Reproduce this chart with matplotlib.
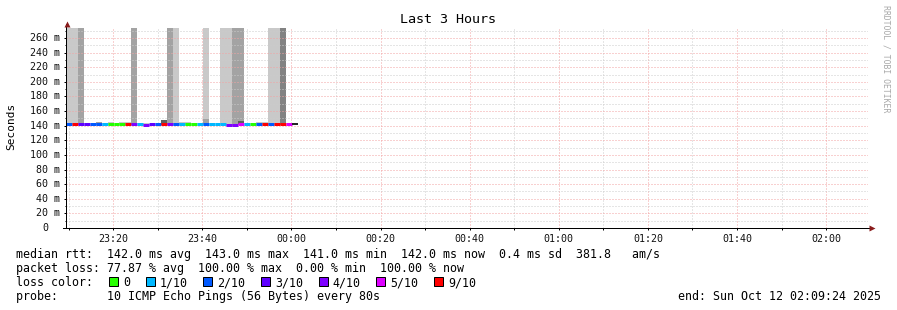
import numpy as np
import matplotlib
matplotlib.use('Agg')
import matplotlib.pyplot as plt
import matplotlib.dates as mdates
import matplotlib.ticker as ticker
from matplotlib.patches import Rectangle
from matplotlib.transforms import offset_copy
from datetime import datetime, timedelta

# %% values
start_time = datetime(2025, 10, 11, 23, 9, 24)
end_time = datetime(2025, 10, 12, 2, 9, 24)
step_sec = 80  # one probe round every 80s

# loss per round, in tenths (10 = all pings lost)
loss_tenths = [2, 9, 3, 3, 2, 2, 1, 0, 0, 0,
               9, 4, 1, 4, 3, 2, 9, 4, 2, 1,
               0, 0, 1, 2, 1, 1, 1, 4, 4, 5,
               1, 0, 2, 9, 2, 9, 9, 5, 10]
median_ms = [142, 142, 142, 142, 142, 142.5, 142, 142, 142, 142,
             142, 142, 142, 141, 142, 142, 142, 142, 142, 142,
             142, 142, 142, 142, 142, 142, 142, 141, 141, 142,
             142, 142, 142, 142, 142, 142, 142, 142, 142]
# outer smoke: top in ms (400 = off the scale), nan = no smoke
smoke_top_ms = [400, 400, 400, np.nan, np.nan, 145.5, np.nan, 145, np.nan, 145,
                145, 400, np.nan, 144, np.nan, np.nan, 148, 400, 400, 145,
                145, np.nan, np.nan, 400, np.nan, np.nan, 400, 400, 400, 400,
                np.nan, np.nan, 145, 145, 400, 400, 400, np.nan, np.nan]
smoke_level = [1, 1, 2, 0, 0, 2, 0, 1, 0, 1,
               1, 2, 0, 1, 0, 0, 4, 2, 1, 1,
               1, 0, 0, 1, 0, 0, 1, 1, 2, 2,
               0, 0, 1, 1, 1, 1, 3, 0, 0]
# denser smoke right above the median
core_top_ms = {23: 149, 29: 147}
core_level = {23: 2, 29: 4}

loss_keys = [0, 1, 2, 3, 4, 5, 9]
loss_labels = ['0', '1/10', '2/10', '3/10', '4/10', '5/10', '9/10']

stats_lines = [
    'median rtt:  142.0 ms avg  143.0 ms max  141.0 ms min  142.0 ms now  0.4 ms sd  381.8   am/s',
    'packet loss: 77.87 % avg  100.00 % max  0.00 % min  100.00 % now',
    'loss color:',
    'probe:       10 ICMP Echo Pings (56 Bytes) every 80s',
]
end_label = 'end: Sun Oct 12 02:09:24 2025'

# %% styles
loss_colors = {0: '#26ff00', 1: '#00b8ff', 2: '#0059ff', 3: '#5e00ff',
               4: '#7e00ff', 5: '#dd00ff', 9: '#ff0000', 10: '#262626'}
smoke_colors = {1: '#c9c9c9', 2: '#a3a3a3', 3: '#828282', 4: '#5e5e5e'}

plt.rcParams['font.family'] = ['DejaVu Sans Mono']
plt.rcParams['lines.scale_dashes'] = False

W, H = 897, 310
px = 72 / 100  # one pixel in points
fig = plt.figure(figsize=(W / 100, H / 100), dpi=100)
ax = fig.add_axes([66 / W, 1 - 228 / H, 802 / W, 200 / H])

n = len(loss_tenths)
t0 = mdates.date2num(start_time)
step_days = step_sec / 86400.0
x_left = t0 + np.arange(n) * step_days

# smoke
for i in range(n):
    if not np.isnan(smoke_top_ms[i]):
        ax.bar(x_left[i], smoke_top_ms[i] - (median_ms[i] - 1), bottom=median_ms[i] - 1,
               width=step_days, align='edge', color=smoke_colors[smoke_level[i]],
               linewidth=0, zorder=1)
    if i in core_top_ms:
        ax.bar(x_left[i], core_top_ms[i] - median_ms[i], bottom=median_ms[i],
               width=step_days, align='edge', color=smoke_colors[core_level[i]],
               linewidth=0, zorder=1.2)

# median line coloured by loss
for i in range(n):
    lw = 3 * px if loss_tenths[i] < 10 else 2 * px
    ax.hlines(median_ms[i], x_left[i], x_left[i] + step_days,
              colors=loss_colors[loss_tenths[i]], linewidth=lw, zorder=3)

ax.set_xlim(mdates.date2num(start_time), mdates.date2num(end_time))
ax.set_ylim(0, 273.7)

ax.xaxis.set_major_locator(mdates.MinuteLocator(byminute=[0, 20, 40]))
ax.xaxis.set_minor_locator(mdates.MinuteLocator(byminute=range(0, 60, 10)))
ax.xaxis.set_major_formatter(mdates.DateFormatter('%H:%M'))
ax.yaxis.set_major_locator(ticker.MultipleLocator(20))
ax.yaxis.set_minor_locator(ticker.MultipleLocator(10))
ax.set_yticklabels([])

ax.grid(which='minor', color='#cccccc', linewidth=px, linestyle=(0, (px, 2 * px)), zorder=2)
ax.grid(which='major', color='#f3a3a3', linewidth=px, linestyle=(0, (px, 2 * px)), zorder=2)
ax.set_axisbelow(False)

ax.tick_params(which='both', direction='out', width=px, color='#000000')
ax.tick_params(which='major', length=2.5 * px)
ax.tick_params(which='minor', length=1.5 * px)
ax.tick_params(axis='x', labelsize=7.2, pad=2.5, labelcolor='#111111')
ax.tick_params(axis='y', length=2 * px)

for s in ax.spines.values():
    s.set_visible(False)

# y labels in rrdtool style ("260 m", plain "0")
for v in ax.get_yticks():
    if v < 0 or v > 270:
        continue
    if v == 0:
        tr = offset_copy(ax.get_yaxis_transform(), fig=fig, x=-18, y=0, units='dots')
        lab = '0'
    else:
        tr = offset_copy(ax.get_yaxis_transform(), fig=fig, x=-6, y=0, units='dots')
        lab = '%d m' % v
    ax.text(0, v, lab, transform=tr, ha='right', va='center', fontsize=7.2, color='#111111')

# axes with arrow heads
ax.plot([0, 0], [0, 1.02], transform=ax.transAxes, color='#000000', lw=px, clip_on=False, zorder=4)
ax.plot([-0.004, 1.004], [0, 0], transform=ax.transAxes, color='#000000', lw=px, clip_on=False, zorder=4)
ax.plot([0.001], [1.0225], transform=ax.transAxes, marker='^', ms=4.5, color='#8a1c1c',
        clip_on=False, zorder=5, mec='none')
ax.plot([1.0045], [0.0], transform=ax.transAxes, marker='>', ms=4.5, color='#8a1c1c',
        clip_on=False, zorder=5, mec='none')

fig.text(448 / W, 1 - 23 / H, 'Last 3 Hours', ha='center', va='baseline', fontsize=9.6)
fig.text(11 / W, 1 - 126 / H, 'Seconds', ha='center', va='center', rotation=90, fontsize=8)
fig.text(886 / W, 1 - 59 / H, 'RRDTOOL / TOBI OETIKER', ha='center', va='center',
         rotation=270, fontsize=5.9, color='#a8a8a8')

# legend / statistics block
row_base = [258.3, 272.3, 286.3, 300.3]
for line, yb in zip(stats_lines, row_base):
    fig.text(16 / W, 1 - yb / H, line, ha='left', va='baseline', fontsize=8.4)
fig.text(881 / W, 1 - row_base[3] / H, end_label, ha='right', va='baseline', fontsize=8.4)

bx = 109.0
for k, lab in zip(loss_keys, loss_labels):
    fig.add_artist(Rectangle((bx / W, 1 - 286 / H), 9 / W, 9 / H, transform=fig.transFigure,
                             facecolor=loss_colors[k], edgecolor='#000000', linewidth=px))
    fig.text((bx + 14) / W, 1 - row_base[2] / H, lab, ha='left', va='baseline', fontsize=8.4)
    bx += 15 + 7.05 * len(lab) + 14.5

fig.savefig('out.png', dpi=100)
